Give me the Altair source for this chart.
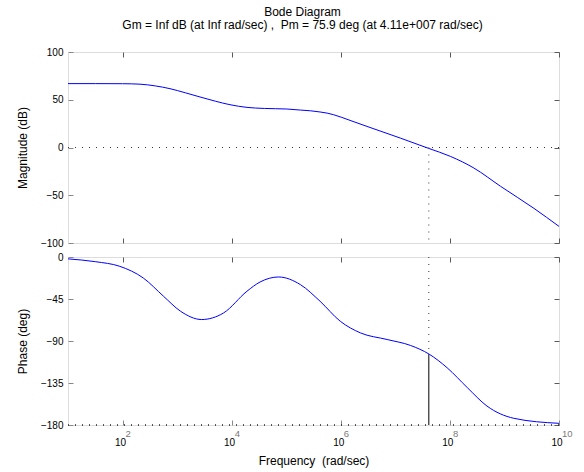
import altair as alt
import pandas as pd

# ---- data ----
mag_log_freq = [1.0, 1.5, 2.0, 2.32, 2.6, 2.87, 3.15, 3.42, 3.7, 3.97, 4.28, 4.6,
                5.01, 5.26, 5.45, 5.62, 5.75, 5.87, 6.17, 6.48, 7.09, 7.61, 8.01,
                8.44, 8.93, 9.54, 10.0]
mag_db = [66.9, 66.9, 66.8, 66.3, 64.5, 61.6, 57.3, 52.9, 48.5, 44.8, 42.0, 40.9,
          40.3, 39.2, 38.4, 37.2, 36.0, 34.3, 28.4, 22.1, 9.9, -0.9, -9.3,
          -21.5, -40.7, -63.7, -82.6]

phase_log_freq = [1.0, 1.5, 1.95, 2.38, 2.75, 3.06, 3.45, 3.85, 4.28, 4.52, 4.86, 5.26,
                  5.62, 5.99, 6.36, 6.85, 7.28, 7.62, 7.95, 8.32, 8.68, 9.17, 10.0]
phase_deg = [-2.0, -5.0, -10.0, -22.5, -42.0, -58.0, -67.0, -60.0, -36.7, -26.8, -21.4, -29.6,
             -47.4, -68.8, -81.3, -88.4, -94.8, -104.1, -118.7, -140.0, -159.7, -172.8, -178.2]

crossover_freq = [4.11e7]
phase_at_crossover = [-104.1]
zero_db = [0]
phase_top = [0]
phase_bottom = [-180]

x_tick_values = [1e2, 1e4, 1e6, 1e8, 1e10]
x_tick_exponents = ["2", "4", "6", "8", "10"]
mag_ticks = [-100, -50, 0, 50, 100]
phase_ticks = [-180, -135, -90, -45, 0]
title_lines = ["Bode Diagram",
               "Gm = Inf dB (at Inf rad/sec) ,\u00a0 Pm = 75.9 deg (at 4.11e+007 rad/sec)"]
x_title = "Frequency\u00a0 (rad/sec)"
mag_title = "Magnitude (dB)"
phase_title = "Phase (deg)"

mag_df = pd.DataFrame({"freq": [10 ** e for e in mag_log_freq], "mag": mag_db})
phase_df = pd.DataFrame({"freq": [10 ** e for e in phase_log_freq], "phase": phase_deg})
cross_df = pd.DataFrame({"freq": crossover_freq, "db0": zero_db, "ph": phase_at_crossover,
                         "top": phase_top, "bottom": phase_bottom})
zero_df = pd.DataFrame({"db": zero_db})
bottom_df = pd.DataFrame({"ph": phase_bottom})
exp_df = pd.DataFrame({"freq": x_tick_values, "exp": x_tick_exponents,
                       "base": phase_bottom * len(x_tick_values)})

# ---- styling ----
FONT = "Liberation Sans"
FRAME = "#5a5a5a"
LABEL = "#7a7a7a"
W, H1, H2 = 491, 191, 168
BLUE = "#0000ff"
DOT = [1, 6]

xscale = alt.Scale(type="log", domain=[10, 1e10], nice=False)
ymag = alt.Scale(domain=[-100, 100], nice=False, zero=False)
yph = alt.Scale(domain=[-180, 0], nice=False, zero=False)


def tick_axis(orient, values):
    return alt.Axis(orient=orient, values=values, labels=False, title=None, domain=False,
                    grid=False, ticks=True, tickSize=5, offset=-5, tickColor=FRAME)


def y_axis(values, title):
    return alt.Axis(orient="left", values=values, title=title, domain=False, grid=False,
                    tickSize=5, offset=-5, labelPadding=5, titlePadding=11,
                    format="d", titleFontWeight="normal", titleColor="black",
                    titleFont=FONT, titleFontSize=12)


# ---- magnitude panel ----
mag_line = alt.Chart(mag_df).mark_line(color=BLUE, strokeWidth=1, interpolate="monotone").encode(
    x=alt.X("freq:Q", scale=xscale, axis=tick_axis("bottom", x_tick_values)),
    y=alt.Y("mag:Q", scale=ymag, axis=y_axis(mag_ticks, mag_title)),
)
mag_zero = alt.Chart(zero_df).mark_rule(color="#333333", strokeWidth=1, strokeDash=DOT).encode(
    y=alt.Y("db:Q", scale=ymag, axis=None),
)
mag_vline = alt.Chart(cross_df).mark_rule(color="#333333", strokeWidth=1, strokeDash=DOT).encode(
    x=alt.X("freq:Q", scale=xscale, axis=tick_axis("top", x_tick_values)),
    y=alt.Y("db0:Q", scale=ymag, axis=tick_axis("right", mag_ticks)),
    y2=alt.datum(-100),
)
mag_panel = alt.layer(mag_zero, mag_vline, mag_line).resolve_axis(
    x="independent", y="independent").properties(width=W, height=H1)

# ---- phase panel ----
ph_line = alt.Chart(phase_df).mark_line(color=BLUE, strokeWidth=1, interpolate="monotone").encode(
    x=alt.X("freq:Q", scale=xscale, axis=alt.Axis(
        orient="bottom", values=x_tick_values, labelExpr="'10'", title=x_title,
        domain=False, grid=False, tickSize=5, offset=-5, labelPadding=12,
        labelAlign="right", labelOffset=3, titlePadding=8,
        titleFontWeight="normal", titleColor="black", titleFont=FONT, titleFontSize=12)),
    y=alt.Y("phase:Q", scale=yph, axis=y_axis(phase_ticks, phase_title)),
)
ph_exp = alt.Chart(exp_df).mark_text(align="left", baseline="middle", dx=3, dy=8.5,
                                     fontSize=9.5, font=FONT, color=LABEL).encode(
    x=alt.X("freq:Q", scale=xscale, axis=None),
    y=alt.Y("base:Q", scale=yph, axis=None),
    text="exp:N",
)
ph_bottom = alt.Chart(bottom_df).mark_rule(color="#222222", strokeWidth=1.5, strokeDash=DOT).encode(
    y=alt.Y("ph:Q", scale=yph, axis=None),
)
ph_vdot = alt.Chart(cross_df).mark_rule(color="#333333", strokeWidth=1, strokeDash=DOT).encode(
    x=alt.X("freq:Q", scale=xscale, axis=tick_axis("top", x_tick_values)),
    y=alt.Y("top:Q", scale=yph, axis=tick_axis("right", phase_ticks)),
    y2="ph:Q",
)
ph_vsolid = alt.Chart(cross_df).mark_rule(color="black", strokeWidth=1).encode(
    x=alt.X("freq:Q", scale=xscale, axis=None),
    y=alt.Y("ph:Q", scale=yph, axis=None),
    y2="bottom:Q",
)
ph_panel = alt.layer(ph_bottom, ph_vdot, ph_vsolid, ph_line, ph_exp).resolve_axis(
    x="independent", y="independent").properties(width=W, height=H2)

chart = alt.vconcat(mag_panel, ph_panel, spacing=14, bounds="flush").properties(
    title=alt.TitleParams(text=title_lines, anchor="middle", fontSize=12, fontWeight="normal",
                          font=FONT, color="black", lineHeight=13, offset=15, dx=8),
    padding={"left": 15, "top": 5, "right": 5, "bottom": 5},
).configure_view(
    stroke=FRAME, strokeWidth=1
).configure_axis(
    labelFont=FONT, labelFontSize=12, labelColor=LABEL, labelFlush=False,
    labelOverlap=False, titleFont=FONT, titleFontSize=12, titleFontWeight="normal",
    titleColor="black", tickColor=FRAME, tickWidth=1,
).configure(font=FONT, background="white")

chart.save("out.html", embed_options={"renderer": "svg", "actions": False})
